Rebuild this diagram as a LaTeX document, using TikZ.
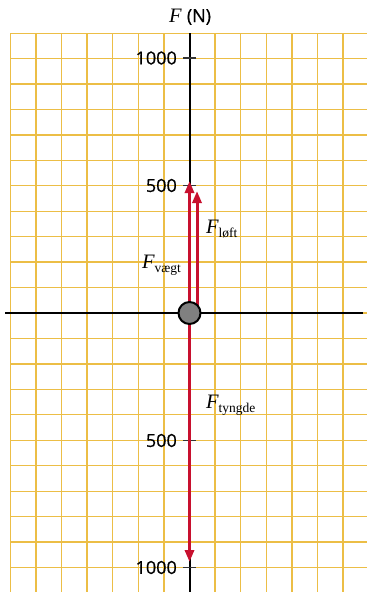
\documentclass[tikz,border=0pt]{standalone}
\usepackage{fontspec}
\setmainfont{Liberation Serif}
\newfontfamily\axfont[FakeBold=0.6]{Open Sans}
\usetikzlibrary{arrows.meta}
\definecolor{gridc}{RGB}{236,190,70}
\definecolor{forcec}{RGB}{200,16,46}
\newcommand{\fsub}[1]{{\itshape F}\raisebox{-4pt}{\fontsize{13.5}{13.5}\selectfont #1}}
\begin{document}
\begin{tikzpicture}[x=1pt,y=-1pt,
 gridline/.style={gridc, line width=1.3pt},
 axisline/.style={black,line width=2pt},
 tickline/.style={black!80,line width=1.2pt},
 force/.style={forcec,line width=3pt,-{Triangle[length=12pt,width=9pt]}},
 ticklabel/.style={font=\axfont\fontsize{18}{18}\selectfont, anchor=east, inner sep=0pt},
 flabel/.style={font=\fontsize{20.5}{20.5}\selectfont, inner sep=0pt, anchor=base west}]
\useasboundingbox (0,0) rectangle (367,592);
\begin{scope}
\clip (10,33) rectangle (367,592);
\foreach \k in {-7,...,7} \draw[gridline] ({189.5+(\k)*25.6},33) -- ({189.5+(\k)*25.6},592);
\foreach \k in {-11,...,11} \draw[gridline] (10,{313+(\k)*25.45}) -- (367,{313+(\k)*25.45});
\end{scope}
% axes
\coordinate (xl) at (5,313);
\coordinate (xr) at (363,313);
\coordinate (yt) at (189.5,33);
\coordinate (yb) at (189.5,592);
\draw[axisline] (xl) -- (xr);
\draw[axisline] (yt) -- (yb);
% ticks
\foreach \y/\t/\n in {58/1000/a,185.5/500/b,440.5/500/c,567.5/1000/d}{
  \coordinate (tl\n) at (183,\y);
  \coordinate (tr\n) at (196,\y);
  \draw[tickline] (tl\n) -- (tr\n);
  \node[ticklabel] (lab\n) at (177,\y) {\t};
}
\node[flabel] (ylab) at (169,22) {\itshape F\upshape\ {\axfont\fontsize{18}{18}\selectfont (N)}};
% forces
\coordinate (o) at (189.5,313);
\coordinate (o2) at (197,313);
\coordinate (tv) at (189.5,181);
\coordinate (tl) at (197,191);
\coordinate (tt) at (189.5,562);
\draw[force] (o) -- (tv);
\draw[force] (o2) -- (tl);
\draw[force] (o) -- (tt);
\node[circle, draw, fill=gray, line width=2pt, minimum size=22pt, inner sep=0pt] (O) at (o) {};
% labels
\node[flabel] (fv) at (142,268) {\fsub{vægt}};
\node[flabel] (fl) at (206,233) {\fsub{løft}};
\node[flabel] (ft) at (206,408) {\fsub{tyngde}};
\end{tikzpicture}
\end{document}
